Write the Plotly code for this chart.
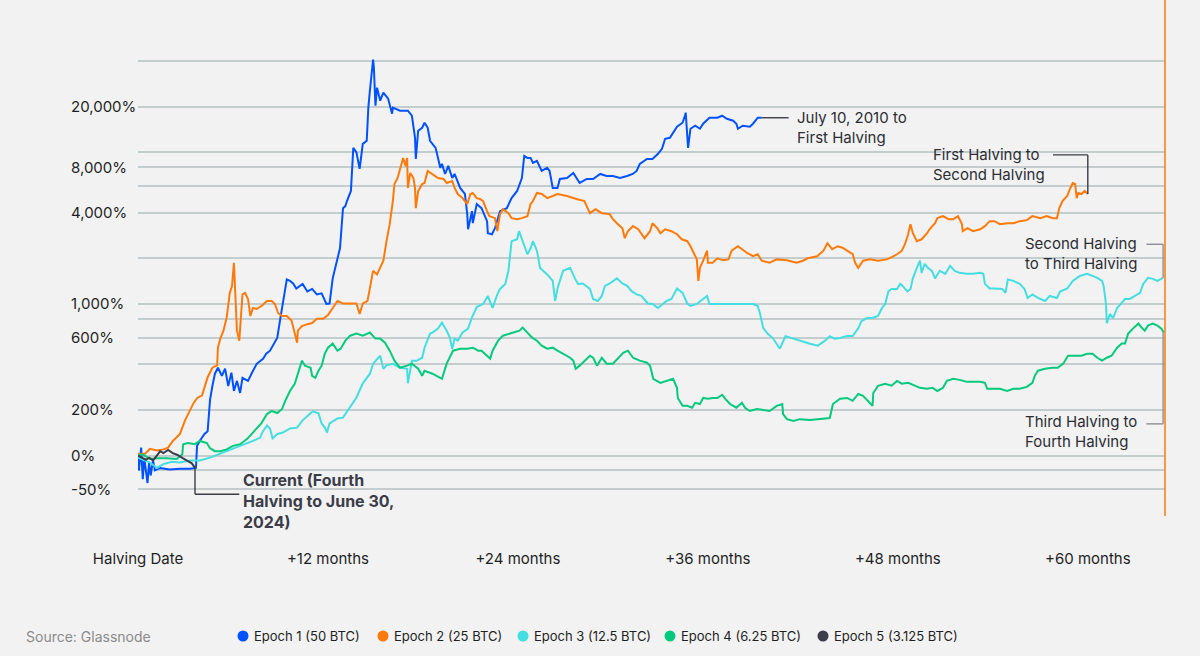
import math
import plotly.graph_objects as go

# ---------------- data (months after halving, price index with halving = 100) ----------------
EPOCH1 = [(0, 100), (0.06, 80), (0.2, 113), (0.3, 70), (0.4, 96), (0.6, 66), (0.7, 90), (0.8, 74), (0.95, 93),
          (1.07, 80), (1.4, 83), (2.0, 81), (2.65, 82), (3.3, 82), (3.66, 83), (3.73, 116), (3.9, 125), (4.2, 139),
          (4.4, 145), (4.55, 233), (4.7, 288), (4.86, 347), (5.05, 380), (5.3, 336), (5.5, 375), (5.7, 288),
          (5.9, 352), (6.06, 267), (6.25, 311), (6.45, 259), (6.6, 326), (6.95, 311), (7.2, 352), (7.5, 403),
          (7.9, 435), (8.1, 470), (8.34, 492), (8.6, 556), (8.8, 600), (8.97, 778), (9.1, 941), (9.3, 1209),
          (9.4, 1452), (9.6, 1420), (9.8, 1365), (10.0, 1265), (10.4, 1355), (10.7, 1209), (11.0, 1257),
          (11.3, 1156), (11.6, 1175), (11.9, 1000), (12.1, 1007), (12.3, 1475), (12.5, 1785), (12.6, 2000),
          (12.76, 2330), (12.95, 4285), (13.1, 4420), (13.2, 4770), (13.45, 5560), (13.6, 10700), (13.8, 10000),
          (14.0, 7770), (14.2, 11370), (14.45, 11910), (14.55, 19700), (14.65, 25500), (14.85, 40900),
          (14.9, 36300), (15.0, 20300), (15.1, 26700), (15.3, 21900), (15.5, 24750), (15.8, 22600),
          (16.05, 17980), (16.1, 19700), (16.55, 18800), (17.05, 18800), (17.3, 17430), (17.5, 12470),
          (17.55, 9050), (17.7, 13870), (17.95, 14520), (18.1, 15670), (18.3, 14520), (18.45, 11910),
          (18.8, 10700), (18.95, 9180), (19.1, 7890), (19.2, 8385), (19.4, 7200), (19.6, 8135), (19.85, 6770),
          (20.0, 7200), (20.35, 5820), (20.65, 5310), (20.8, 3913), (20.85, 3110), (21.1, 4090), (21.15, 3410),
          (21.4, 4560), (21.7, 4285), (22.05, 3515), (22.1, 2930), (22.36, 2884), (22.55, 3160), (22.87, 4090),
          (23.3, 4285), (23.6, 4990), (23.95, 5560), (24.25, 6770), (24.4, 9470), (24.6, 9180), (24.8, 9180),
          (24.95, 8510), (25.2, 8780), (25.5, 7535), (25.85, 7890), (26.0, 7535), (26.2, 5820), (26.5, 5820),
          (26.65, 6670), (27.1, 6770), (27.5, 7310), (27.9, 6280), (28.35, 6670), (28.75, 6670), (29.2, 7200),
          (29.6, 6980), (30.0, 6980), (30.45, 6770), (30.9, 6980), (31.25, 7200), (31.5, 7535), (31.7, 8385),
          (32.15, 9050), (32.5, 9050), (32.85, 9770), (33.1, 10540), (33.3, 12280), (33.6, 12470),
          (34.05, 14740), (34.4, 15670), (34.55, 17430), (34.6, 18250), (34.75, 10700), (34.9, 14300),
          (35.2, 14960), (35.5, 14300), (35.7, 15430), (36.1, 16900), (36.6, 16900), (36.9, 17430),
          (37.2, 16650), (37.6, 16150), (37.8, 15430), (37.9, 14300), (38.2, 14960), (38.65, 14740),
          (38.85, 15430), (39.15, 16900), (39.4, 16900)]

EPOCH2 = [(0, 103), (0.45, 103), (0.75, 111), (1.2, 108), (1.6, 110), (1.9, 113), (2.2, 125), (2.65, 139),
          (2.97, 171), (3.3, 199), (3.5, 221), (3.73, 239), (4.05, 250), (4.2, 282), (4.4, 329), (4.7, 380),
          (5.0, 394), (5.05, 515), (5.2, 591), (5.4, 667), (5.6, 815), (5.8, 1183), (5.94, 1316), (6.06, 1870),
          (6.13, 1355), (6.2, 941), (6.25, 667), (6.4, 573), (6.5, 859), (6.6, 1156), (6.76, 1183), (6.95, 1079),
          (7.1, 833), (7.26, 941), (7.5, 927), (7.8, 970), (8.15, 1047), (8.45, 1047), (8.65, 1000), (8.85, 872),
          (9.1, 833), (9.4, 833), (9.7, 778), (9.9, 638), (10.05, 556), (10.1, 667), (10.36, 714), (10.7, 736),
          (11.0, 748), (11.3, 800), (11.7, 800), (12.0, 846), (12.3, 941), (12.6, 1047), (12.95, 1007),
          (13.4, 1007), (13.8, 1007), (14.0, 859), (14.2, 1007), (14.5, 1047), (14.85, 1654), (15.1, 1567),
          (15.3, 1730), (15.5, 1928), (15.7, 2594), (15.9, 3360), (16.1, 4770), (16.2, 6180), (16.4, 6770),
          (16.6, 7890), (16.75, 9180), (16.9, 8135), (17.0, 9180), (17.05, 5820), (17.2, 7310), (17.4, 6770),
          (17.5, 5820), (17.55, 4285), (17.7, 5560), (17.95, 6180), (18.1, 6280), (18.3, 7535), (18.6, 7200),
          (18.8, 6980), (18.95, 6770), (19.3, 6670), (19.5, 6280), (19.85, 6470), (20.0, 5820), (20.2, 5310),
          (20.5, 4990), (20.8, 4560), (21.0, 5310), (21.15, 5390), (21.4, 4990), (21.6, 4920), (21.8, 4770),
          (22.05, 4090), (22.2, 3795), (22.55, 3680), (22.7, 3020), (22.87, 3913), (23.05, 4220), (23.4, 3970),
          (23.6, 3680), (23.95, 3625), (24.25, 3680), (24.6, 3795), (24.8, 4560), (24.95, 4770), (25.2, 5390),
          (25.5, 5310), (25.85, 4990), (26.5, 5310), (27.1, 5150), (27.7, 4920), (28.2, 4770), (28.4, 4285),
          (28.55, 3970), (28.9, 4220), (29.3, 3970), (29.8, 3913), (30.0, 3625), (30.25, 3410), (30.6, 3160),
          (30.75, 2714), (30.95, 3020), (31.27, 3260), (31.6, 3110), (32.0, 2714), (32.35, 3020), (32.5, 3410),
          (32.8, 3160), (33.0, 2930), (33.3, 3110), (33.7, 3020), (34.05, 2884), (34.35, 2670), (34.7, 2594),
          (34.9, 2403), (35.05, 2245), (35.3, 1968), (35.4, 1420), (35.5, 1730), (35.7, 1928), (35.95, 2245),
          (36.0, 1870), (36.3, 1870), (36.6, 2000), (36.95, 1940), (37.3, 1968), (37.5, 2245), (37.9, 2403),
          (38.15, 2296), (38.5, 2160), (38.85, 2064), (39.15, 2127), (39.4, 1928), (39.9, 1870), (40.35, 1968),
          (41.0, 1940), (41.6, 1870), (42.0, 1928), (42.3, 2000), (42.9, 2064), (43.3, 2245), (43.55, 2514),
          (43.85, 2296), (44.2, 2403), (44.5, 2350), (45.0, 2160), (45.15, 2127), (45.3, 1870), (45.5, 1730),
          (45.8, 1928), (46.25, 1968), (46.75, 1928), (47.3, 1968), (47.6, 2032), (47.95, 2127), (48.25, 2245),
          (48.45, 2476), (48.65, 2884), (48.8, 3360), (48.95, 2930), (49.2, 2594), (49.5, 2670), (49.85, 2930),
          (50.0, 3110), (50.35, 3410), (50.5, 3680), (50.85, 3795), (51.2, 3625), (51.5, 3625), (51.8, 3795),
          (52.05, 3360), (52.1, 3020), (52.4, 3160), (52.75, 3020), (53.2, 3110), (53.5, 3260), (53.8, 3515),
          (54.1, 3515), (54.45, 3360), (54.9, 3410), (55.3, 3410), (55.7, 3515), (56.15, 3570), (56.5, 3795),
          (57.0, 3680), (57.4, 3795), (57.8, 3680), (58.05, 3680), (58.2, 4285), (58.4, 4770), (58.7, 5150),
          (58.9, 5820), (59.05, 6280), (59.2, 6180), (59.3, 4990), (59.4, 5390), (59.6, 5310), (59.8, 5560),
          (60.0, 5310)]

EPOCH3 = [(0, 97), (0.45, 93), (0.76, 90), (1.2, 83), (1.6, 88), (2.15, 91), (2.65, 90), (3.3, 93), (3.9, 93),
          (4.55, 97), (5.2, 103), (5.8, 108), (6.45, 116), (6.9, 120), (7.26, 125), (7.7, 131), (7.9, 145),
          (8.15, 158), (8.34, 151), (8.5, 130), (8.8, 139), (9.15, 142), (9.6, 151), (10.05, 153), (10.4, 171),
          (10.9, 190), (11.05, 196), (11.4, 190), (11.6, 163), (11.8, 153), (11.94, 142), (12.1, 163),
          (12.6, 176), (12.95, 178), (13.4, 208), (13.8, 242), (14.2, 300), (14.65, 347), (14.85, 403),
          (15.3, 456), (15.5, 374), (15.7, 394), (16.1, 403), (16.55, 380), (17.0, 374), (17.05, 300),
          (17.3, 422), (17.6, 422), (17.95, 442), (18.1, 515), (18.45, 638), (18.6, 648), (18.95, 688),
          (19.2, 754), (19.5, 667), (19.7, 600), (19.85, 507), (20.0, 591), (20.2, 573), (20.5, 648),
          (20.85, 688), (21.1, 815), (21.4, 955), (21.8, 1000), (22.1, 1130), (22.4, 941), (22.7, 1156),
          (22.87, 1257), (23.2, 1355), (23.4, 1654), (23.6, 2594), (23.95, 2670), (24.07, 3020), (24.3, 2594),
          (24.6, 2127), (24.8, 2330), (24.95, 2594), (25.2, 2245), (25.4, 1730), (25.85, 1567), (26.2, 1420),
          (26.35, 1047), (26.5, 1265), (26.85, 1654), (27.3, 1730), (27.6, 1475), (27.8, 1355), (28.1, 1365),
          (28.55, 1257), (28.75, 1079), (29.05, 1047), (29.3, 1130), (29.5, 1316), (29.8, 1365), (30.25, 1475),
          (30.6, 1365), (30.9, 1316), (31.2, 1209), (31.5, 1156), (31.8, 1130), (32.2, 1007), (32.5, 1000),
          (32.85, 941), (33.15, 1000), (33.4, 1047), (33.7, 1079), (34.05, 1265), (34.4, 1183), (34.7, 1007),
          (34.9, 970), (35.3, 1000), (35.7, 1079), (35.95, 1130), (36.1, 1000), (36.6, 1000), (36.95, 1007),
          (37.6, 1007), (38.2, 1000), (38.85, 1000), (39.15, 970), (39.3, 859), (39.5, 693), (39.8, 633),
          (40.1, 596), (40.55, 507), (40.9, 614), (41.4, 591), (41.8, 573), (42.45, 547), (42.95, 531),
          (43.4, 573), (43.7, 614), (44.0, 591), (44.35, 596), (44.8, 614), (45.15, 614), (45.5, 693),
          (45.7, 771), (46.05, 808), (46.4, 808), (46.75, 833), (47.0, 941), (47.2, 1000), (47.4, 1209),
          (47.6, 1257), (47.95, 1257), (48.15, 1357), (48.3, 1316), (48.6, 1209), (48.8, 1257), (48.95, 1475),
          (49.2, 1730), (49.4, 1928), (49.5, 1604), (49.7, 1840), (49.9, 1730), (50.15, 1654), (50.35, 1475),
          (50.65, 1654), (51.0, 1580), (51.3, 1785), (51.6, 1654), (51.9, 1604), (52.35, 1580), (52.75, 1580),
          (53.2, 1604), (53.4, 1580), (53.5, 1357), (53.8, 1265), (54.1, 1265), (54.6, 1257), (54.8, 1183),
          (54.95, 1452), (55.3, 1420), (55.7, 1357), (56.0, 1257), (56.2, 1096), (56.5, 1156), (56.85, 1096),
          (57.3, 1047), (57.6, 1130), (58.05, 1096), (58.25, 1209), (58.7, 1265), (59.05, 1420), (59.5, 1531),
          (59.95, 1580), (60.3, 1531), (60.6, 1486), (60.9, 1419), (61.0, 1316), (61.15, 1000), (61.2, 748),
          (61.4, 859), (61.6, 808), (61.85, 941), (62.05, 1000), (62.35, 1079), (62.65, 1079), (63.0, 1130),
          (63.3, 1183), (63.5, 1357), (63.8, 1486), (64.1, 1464), (64.4, 1419), (64.75, 1486)]

EPOCH4 = [(0, 100), (0.3, 102), (0.76, 95), (1.2, 96), (1.8, 96), (2.45, 95), (2.8, 102), (2.85, 119),
          (3.15, 121), (3.6, 119), (3.9, 125), (4.35, 121), (4.55, 112), (4.86, 107), (5.2, 107), (5.6, 110),
          (6.0, 116), (6.45, 119), (6.9, 129), (7.2, 139), (7.5, 152), (7.8, 164), (8.15, 188), (8.45, 197),
          (8.8, 191), (9.1, 203), (9.3, 230), (9.6, 267), (9.9, 298), (10.1, 352), (10.36, 423), (10.55, 392),
          (10.9, 380), (11.0, 336), (11.2, 326), (11.4, 363), (11.6, 392), (11.8, 470), (12.0, 515),
          (12.3, 548), (12.6, 492), (12.8, 507), (13.1, 573), (13.4, 618), (13.8, 638), (14.2, 618),
          (14.65, 648), (15.0, 591), (15.3, 591), (15.6, 556), (15.9, 492), (16.2, 423), (16.55, 380),
          (17.0, 392), (17.3, 404), (17.7, 374), (17.95, 336), (18.1, 363), (18.6, 347), (19.2, 321),
          (19.5, 404), (19.9, 492), (20.35, 507), (20.8, 507), (21.15, 515), (21.5, 492), (21.7, 492),
          (22.05, 456), (22.25, 436), (22.4, 492), (22.75, 573), (23.05, 618), (23.5, 638), (23.8, 648),
          (24.1, 667), (24.3, 699), (24.6, 648), (24.9, 600), (25.2, 573), (25.5, 531), (25.85, 507),
          (26.2, 515), (26.5, 492), (26.85, 470), (27.3, 442), (27.5, 423), (27.65, 374), (27.9, 392),
          (28.2, 423), (28.55, 456), (28.75, 442), (29.0, 392), (29.3, 442), (29.6, 404), (30.0, 404),
          (30.3, 436), (30.65, 477), (30.95, 492), (31.27, 442), (31.7, 423), (32.15, 410), (32.35, 392),
          (32.5, 347), (32.55, 321), (33.0, 302), (33.4, 311), (33.8, 321), (34.05, 280), (34.1, 240),
          (34.4, 213), (34.7, 213), (35.0, 207), (35.2, 223), (35.5, 219), (35.7, 240), (36.0, 237),
          (36.3, 240), (36.6, 240), (36.9, 252), (37.1, 237), (37.4, 219), (37.8, 207), (38.15, 223),
          (38.35, 207), (38.65, 197), (39.1, 203), (39.5, 200), (39.9, 197), (40.35, 213), (40.7, 219),
          (40.75, 188), (41.0, 174), (41.4, 169), (41.8, 174), (42.45, 172), (43.1, 174), (43.7, 177),
          (43.9, 219), (44.35, 237), (44.8, 240), (45.15, 230), (45.5, 255), (45.8, 248), (46.1, 230),
          (46.4, 213), (46.45, 259), (46.75, 289), (47.2, 298), (47.6, 289), (47.95, 311), (48.25, 298),
          (48.65, 302), (49.1, 289), (49.4, 280), (49.85, 276), (50.2, 280), (50.5, 267), (50.85, 280),
          (51.1, 311), (51.5, 321), (51.9, 316), (52.35, 307), (52.75, 307), (53.2, 307), (53.5, 302),
          (53.65, 276), (54.0, 276), (54.45, 276), (54.9, 267), (55.3, 276), (55.7, 276), (56.15, 284),
          (56.5, 302), (56.65, 336), (56.85, 363), (57.3, 374), (57.75, 380), (58.1, 380), (58.45, 404),
          (58.75, 456), (59.2, 456), (59.6, 456), (59.95, 470), (60.3, 470), (60.6, 442), (60.9, 423),
          (61.2, 442), (61.5, 456), (61.85, 515), (62.15, 548), (62.35, 548), (62.55, 638), (62.85, 688),
          (63.2, 743), (63.4, 699), (63.6, 667), (63.8, 720), (64.1, 743), (64.4, 720), (64.65, 688),
          (64.8, 648)]

EPOCH5 = [(0, 100), (0.3, 96), (0.5, 94), (0.7, 97), (0.95, 93), (1.25, 102), (1.4, 107), (1.6, 104),
          (1.9, 109), (2.2, 104), (2.5, 101), (2.85, 96), (3.15, 92), (3.4, 89), (3.6, 83)]

SERIES_NAMES = ["Epoch 1 (50 BTC)", "Epoch 2 (25 BTC)", "Epoch 3 (12.5 BTC)", "Epoch 4 (6.25 BTC)",
                "Epoch 5 (3.125 BTC)"]
SERIES_DATA = [EPOCH1, EPOCH2, EPOCH3, EPOCH4, EPOCH5]
SERIES_COLORS = ["#0052FF", "#FF7A0A", "#44DEE0", "#05C97E", "#3C3F4B"]

X_TICK_VALUES = [0, 12, 24, 36, 48, 60]
X_TICK_TEXT = ["Halving Date", "+12 months", "+24 months", "+36 months", "+48 months", "+60 months"]

GRID_VALUES = [40, 60, 80, 100, 200, 400, 600, 800, 1000, 2000, 4000, 6000, 8000, 10000, 20000, 40000]
Y_LABEL_VALUES = [20000, 8000, 4000, 1000, 600, 200, 100, 60]
Y_LABEL_TEXT = ["20,000%", "8,000%", "4,000%", "1,000%", "600%", "200%", "0%", "-50%"]

# ---------------- layout geometry ----------------
W, H = 1200, 656
PL, PR, PT, PB = 138, 1165, 0, 516          # plot area in pixels
PX_PER_MONTH = 15.83
PX_PER_DECADE = 151.67
X_RANGE = [0, (PR - PL) / PX_PER_MONTH]
Y_RANGE = [math.log10(40), math.log10(40) + (PB - PT) / PX_PER_DECADE]

FONT = "Inter, Roboto, Arial, sans-serif"
BG = "#F2F2F2"
TXT = "#1E1F24"


def pxx(p):
    return (p - PL) / (PR - PL)


def pxy(p):
    return (PB - p) / (PB - PT)


fig = go.Figure()
for name, data, color in zip(SERIES_NAMES, SERIES_DATA, SERIES_COLORS):
    xs = [d[0] for d in data]
    ys = [d[1] for d in data]
    fig.add_trace(go.Scatter(x=xs, y=ys, mode="lines", name=name,
                             line=dict(color=color, width=2), showlegend=False,
                             hoverinfo="x+y+name"))

# connector lines for the series labels (data coordinates)
DARK = "#3A3D46"
GREY = "#8C9096"
e1_end, e2_end, e3_end, e4_end, e5_end = EPOCH1[-1], EPOCH2[-1], EPOCH3[-1], EPOCH4[-1], EPOCH5[-1]
right_x = X_RANGE[1] - 0.12
connectors = [
    (e1_end[0], e1_end[1], 41.1, e1_end[1], DARK),
    (e2_end[0], e2_end[1], e2_end[0], 9610, DARK),
    (e2_end[0], 9610, 57.8, 9610, DARK),
    (63.7, 2475, right_x, 2475, GREY),
    (right_x, 2475, right_x, e3_end[1], GREY),
    (63.7, 162, right_x, 162, GREY),
    (right_x, 162, right_x, e4_end[1], GREY),
    (e5_end[0], e5_end[1], e5_end[0], 55.6, DARK),
    (e5_end[0], 55.6, 6.4, 55.6, DARK),
]
for x0, y0, x1, y1, c in connectors:
    fig.add_shape(type="line", xref="x", yref="y", x0=x0, y0=y0, x1=x1, y1=y1,
                  line=dict(color=c, width=1.4), layer="above")

# right orange border
fig.add_shape(type="line", xref="paper", yref="paper", x0=1, x1=1, y0=0, y1=1,
              line=dict(color="#FF7A0A", width=1.5))

ann = []
# y-axis labels (left aligned)
for v, t in zip(Y_LABEL_VALUES, Y_LABEL_TEXT):
    ann.append(dict(x=pxx(69), xref="paper", y=math.log10(v), yref="y", text=t, showarrow=False,
                    xanchor="left", yanchor="middle", font=dict(family=FONT, size=15, color=TXT)))

# series labels
labels = [
    ("July 10, 2010 to<br>First Halving", 795, 127, 15, "#2B2D33"),
    ("First Halving to<br>Second Halving", 931, 164, 15, "#2B2D33"),
    ("Second Halving<br>to Third Halving", 1023, 253, 15, "#2B2D33"),
    ("Third Halving to<br>Fourth Halving", 1023, 432, 15, "#2B2D33"),
    ("<b>Current (Fourth<br>Halving to June 30,<br>2024)</b>", 241, 501, 16, "#3A3D48"),
]
for t, x, y, s, c in labels:
    ann.append(dict(x=pxx(x), xref="paper", y=pxy(y), yref="paper", text=t, showarrow=False,
                    xanchor="left", yanchor="middle", align="left",
                    font=dict(family=FONT, size=s, color=c)))

# legend (custom, dot + text)
LEG_Y = 636
LEG_X = [243, 383, 523, 670, 823]
for name, color, lx in zip(SERIES_NAMES, SERIES_COLORS, LEG_X):
    fig.add_shape(type="circle", xref="paper", yref="paper", xsizemode="pixel", ysizemode="pixel",
                  xanchor=pxx(lx), yanchor=pxy(LEG_Y), x0=-5.5, x1=5.5, y0=-5.5, y1=5.5,
                  fillcolor=color, line=dict(width=0))
    ann.append(dict(x=pxx(lx + 9), xref="paper", y=pxy(LEG_Y), yref="paper", text=name, showarrow=False,
                    xanchor="left", yanchor="middle", font=dict(family=FONT, size=13, color=TXT)))

ann.append(dict(x=pxx(24), xref="paper", y=pxy(LEG_Y), yref="paper", text="Source: Glassnode",
                showarrow=False, xanchor="left", yanchor="middle",
                font=dict(family=FONT, size=14, color="#8A8A8A")))

fig.update_layout(
    width=W, height=H,
    margin=dict(l=PL, r=W - PR, t=PT, b=H - PB, pad=0),
    paper_bgcolor=BG, plot_bgcolor=BG,
    showlegend=False,
    annotations=ann,
    font=dict(family=FONT, color=TXT),
    xaxis=dict(range=X_RANGE, tickvals=X_TICK_VALUES, ticktext=X_TICK_TEXT, showgrid=False,
               zeroline=False, showline=False, ticks="", ticklabelstandoff=32,
               tickfont=dict(family=FONT, size=15, color=TXT)),
    yaxis=dict(type="log", range=Y_RANGE, tickvals=GRID_VALUES, showticklabels=False,
               showgrid=True, gridcolor="#C4CDCD", gridwidth=1.5, zeroline=False, showline=False,
               ticks=""),
)

fig.write_html("out.html", config={"displayModeBar": False},
               post_script="document.body.style.margin='0';document.body.style.overflow='hidden';")
